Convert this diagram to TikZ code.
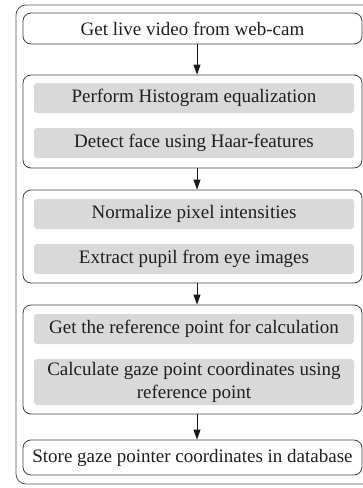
\documentclass[tikz,border=0pt]{standalone}
\usepackage{fontspec}
\setmainfont{Liberation Serif}
\usetikzlibrary{arrows.meta}
\begin{document}
\begin{tikzpicture}[x=1pt,y=-1pt,
 txt/.style={font=\fontsize{19}{23}\selectfont, text=black!88},
 stepbox/.style={draw=black!75, line width=0.8pt, rounded corners=8pt, inner sep=0pt, minimum width=339pt, txt},
 graybox/.style={fill=black!15, rounded corners=3pt, inner sep=0pt, minimum width=320pt, minimum height=30pt, txt, align=center},
 arr/.style={-{Triangle[length=10pt,width=7pt]}, line width=0.9pt, black!90}]
\useasboundingbox (0,0) rectangle (363,488);
\begin{scope}
\clip (0,0) rectangle (363,488);
\draw[line width=0.8pt, draw=black!65, rounded corners=10pt] (16,5) rectangle (385,484);
\end{scope}
\coordinate (ax) at (197,0);
\node[stepbox, minimum height=31pt] (top) at (192.5,28.5) {Get live video from web-cam};
\node[stepbox, minimum height=93pt] (g1) at (192.5,121.5) {};
\node[graybox] (ga) at (194,98) {Perform Histogram equalization};
\node[graybox] (gb) at (194,143) {Detect face using Haar-features};
\node[stepbox, minimum height=93pt] (g2) at (192.5,236.5) {};
\node[graybox] (gc) at (194,214) {Normalize pixel intensities};
\node[graybox] (gd) at (194,259) {Extract pupil from eye images};
\node[stepbox, minimum height=109pt] (g3) at (192.5,359.5) {};
\node[graybox] (ge) at (194,329) {Get the reference point for calculation};
\node[graybox, minimum height=46pt] (gf) at (194,382) {Calculate gaze point coordinates using\\reference point};
\node[stepbox, minimum height=35pt] (last) at (192.5,457.5) {Store gaze pointer coordinates in database};
\draw[arr] (top.south -| ax) -- (g1.north -| ax);
\draw[arr] (g1.south -| ax) -- (g2.north -| ax);
\draw[arr] (g2.south -| ax) -- (g3.north -| ax);
\draw[arr] (g3.south -| ax) -- (last.north -| ax);
\end{tikzpicture}
\end{document}
